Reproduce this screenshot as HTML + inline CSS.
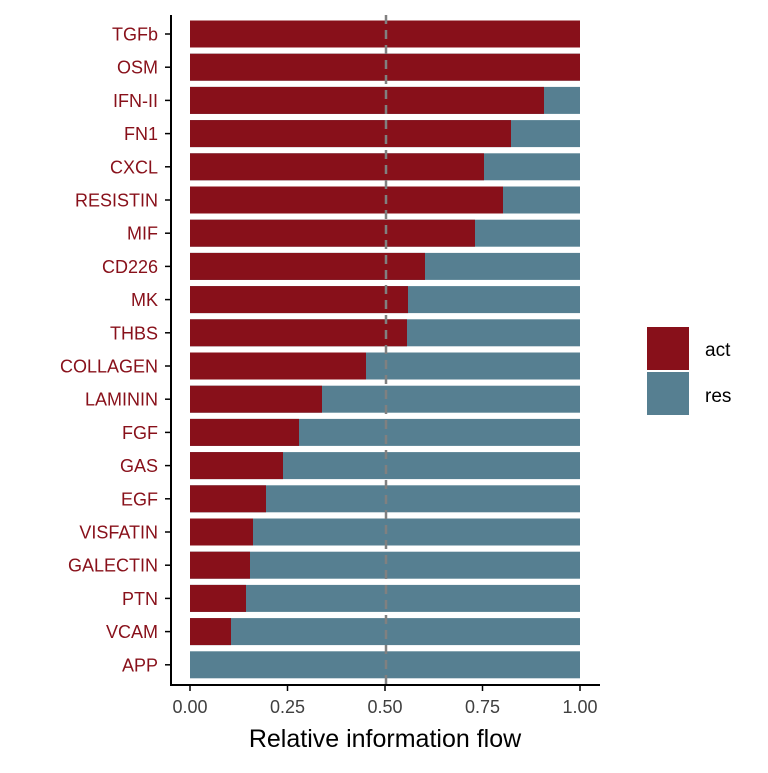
<!DOCTYPE html>
<html><head><meta charset="utf-8"><style>body{margin:0;background:#fff}</style></head><body>
<svg width="768" height="768" xmlns="http://www.w3.org/2000/svg" font-family="Liberation Sans, sans-serif">
<rect width="768" height="768" fill="#fff"/>
<g fill="#567f91">
<rect x="190" y="20.5" width="390" height="27"/>
<rect x="190" y="53.7" width="390" height="27"/>
<rect x="190" y="86.9" width="390" height="27"/>
<rect x="190" y="120.1" width="390" height="27"/>
<rect x="190" y="153.3" width="390" height="27"/>
<rect x="190" y="186.5" width="390" height="27"/>
<rect x="190" y="219.7" width="390" height="27"/>
<rect x="190" y="252.9" width="390" height="27"/>
<rect x="190" y="286.1" width="390" height="27"/>
<rect x="190" y="319.3" width="390" height="27"/>
<rect x="190" y="352.5" width="390" height="27"/>
<rect x="190" y="385.7" width="390" height="27"/>
<rect x="190" y="418.9" width="390" height="27"/>
<rect x="190" y="452.1" width="390" height="27"/>
<rect x="190" y="485.3" width="390" height="27"/>
<rect x="190" y="518.5" width="390" height="27"/>
<rect x="190" y="551.7" width="390" height="27"/>
<rect x="190" y="584.9" width="390" height="27"/>
<rect x="190" y="618.1" width="390" height="27"/>
<rect x="190" y="651.3" width="390" height="27"/>
</g>
<g fill="#88101a">
<rect x="190" y="20.5" width="390" height="27"/>
<rect x="190" y="53.7" width="390" height="27"/>
<rect x="190" y="86.9" width="354" height="27"/>
<rect x="190" y="120.1" width="321" height="27"/>
<rect x="190" y="153.3" width="294" height="27"/>
<rect x="190" y="186.5" width="313" height="27"/>
<rect x="190" y="219.7" width="285" height="27"/>
<rect x="190" y="252.9" width="235" height="27"/>
<rect x="190" y="286.1" width="218" height="27"/>
<rect x="190" y="319.3" width="217" height="27"/>
<rect x="190" y="352.5" width="176" height="27"/>
<rect x="190" y="385.7" width="132" height="27"/>
<rect x="190" y="418.9" width="109" height="27"/>
<rect x="190" y="452.1" width="93" height="27"/>
<rect x="190" y="485.3" width="76" height="27"/>
<rect x="190" y="518.5" width="63" height="27"/>
<rect x="190" y="551.7" width="60" height="27"/>
<rect x="190" y="584.9" width="56" height="27"/>
<rect x="190" y="618.1" width="41" height="27"/>
</g>
<g font-size="18" fill="#88101a" text-anchor="end">
<text x="158" y="40.5">TGFb</text>
<text x="158" y="73.7">OSM</text>
<text x="158" y="106.9">IFN-II</text>
<text x="158" y="140.1">FN1</text>
<text x="158" y="173.3">CXCL</text>
<text x="158" y="206.5">RESISTIN</text>
<text x="158" y="239.7">MIF</text>
<text x="158" y="272.9">CD226</text>
<text x="158" y="306.1">MK</text>
<text x="158" y="339.3">THBS</text>
<text x="158" y="372.5">COLLAGEN</text>
<text x="158" y="405.7">LAMININ</text>
<text x="158" y="438.9">FGF</text>
<text x="158" y="472.1">GAS</text>
<text x="158" y="505.3">EGF</text>
<text x="158" y="538.5">VISFATIN</text>
<text x="158" y="571.7">GALECTIN</text>
<text x="158" y="604.9">PTN</text>
<text x="158" y="638.1">VCAM</text>
<text x="158" y="671.3">APP</text>
</g>
<g stroke="#000" stroke-width="1.5">
<line x1="165" y1="34" x2="171" y2="34"/><line x1="165" y1="67.2" x2="171" y2="67.2"/><line x1="165" y1="100.4" x2="171" y2="100.4"/><line x1="165" y1="133.6" x2="171" y2="133.6"/><line x1="165" y1="166.8" x2="171" y2="166.8"/><line x1="165" y1="200" x2="171" y2="200"/><line x1="165" y1="233.2" x2="171" y2="233.2"/><line x1="165" y1="266.4" x2="171" y2="266.4"/><line x1="165" y1="299.6" x2="171" y2="299.6"/><line x1="165" y1="332.8" x2="171" y2="332.8"/><line x1="165" y1="366" x2="171" y2="366"/><line x1="165" y1="399.2" x2="171" y2="399.2"/><line x1="165" y1="432.4" x2="171" y2="432.4"/><line x1="165" y1="465.6" x2="171" y2="465.6"/><line x1="165" y1="498.8" x2="171" y2="498.8"/><line x1="165" y1="532" x2="171" y2="532"/><line x1="165" y1="565.2" x2="171" y2="565.2"/><line x1="165" y1="598.4" x2="171" y2="598.4"/><line x1="165" y1="631.6" x2="171" y2="631.6"/><line x1="165" y1="664.8" x2="171" y2="664.8"/>
</g>
<line x1="386" y1="15" x2="386" y2="685" stroke="#808080" stroke-width="2.5" stroke-dasharray="9,6"/>
<line x1="171" y1="15" x2="171" y2="686" stroke="#000" stroke-width="2"/>
<line x1="170" y1="685" x2="600" y2="685" stroke="#000" stroke-width="2"/>
<g font-size="18" fill="#404040" text-anchor="middle">
<text x="190" y="713">0.00</text><text x="287.5" y="713">0.25</text><text x="385" y="713">0.50</text><text x="482.5" y="713">0.75</text><text x="580" y="713">1.00</text>
</g>
<g stroke="#000" stroke-width="1.5">
<line x1="190" y1="685" x2="190" y2="691"/><line x1="287.5" y1="685" x2="287.5" y2="691"/><line x1="385" y1="685" x2="385" y2="691"/><line x1="482.5" y1="685" x2="482.5" y2="691"/><line x1="580" y1="685" x2="580" y2="691"/>
</g>
<text x="385" y="747" font-size="25" text-anchor="middle" fill="#000">Relative information flow</text>
<rect x="647" y="327" width="42" height="43" fill="#88101a"/>
<rect x="647" y="372" width="42" height="43" fill="#567f91"/>
<text x="705" y="356" font-size="19">act</text>
<text x="705" y="402" font-size="19">res</text>
</svg>
</body></html>
